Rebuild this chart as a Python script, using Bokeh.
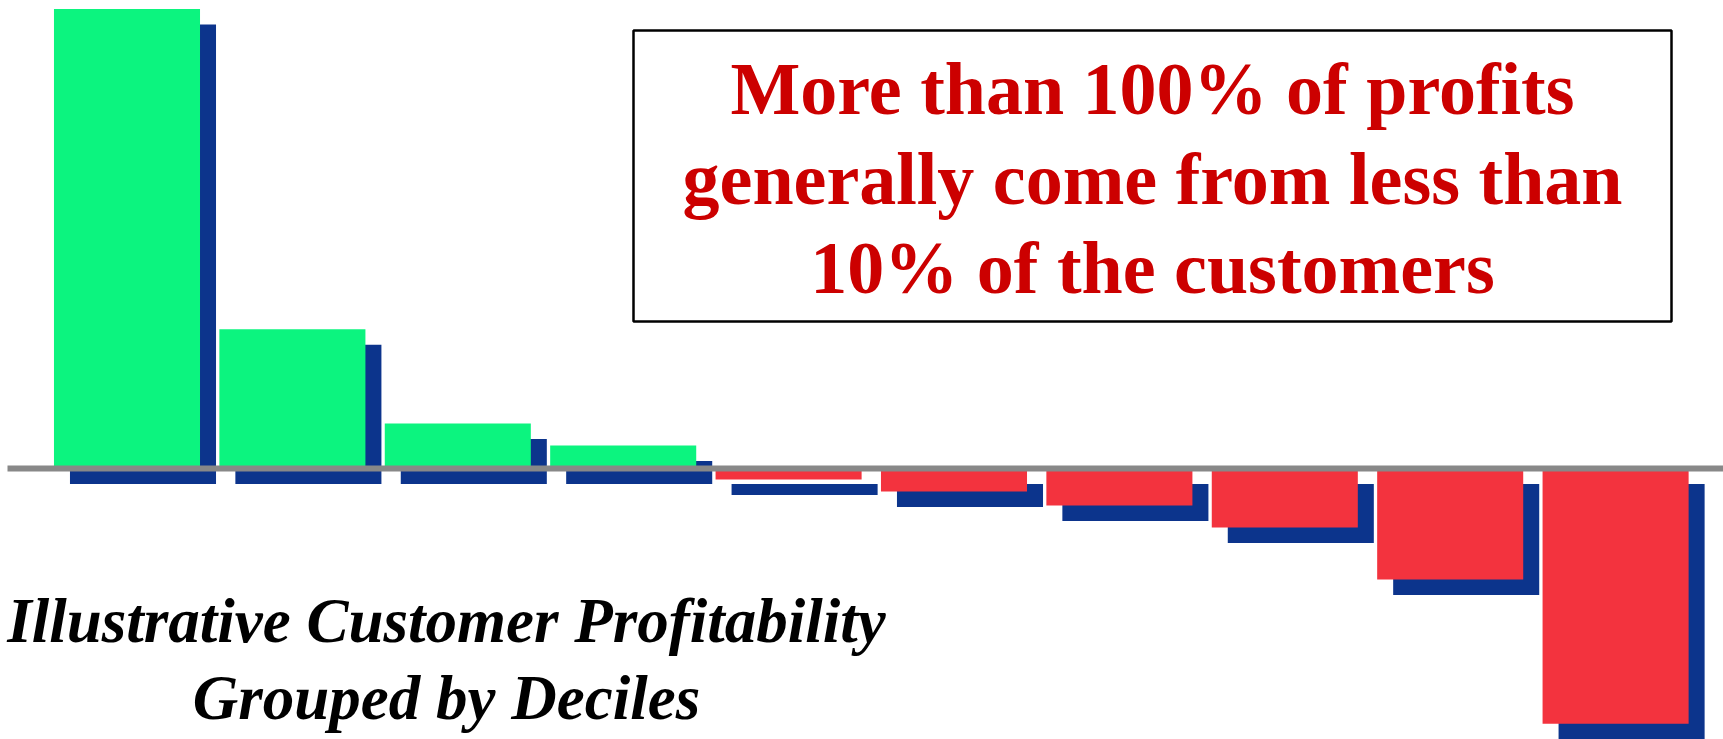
from bokeh.plotting import figure
from bokeh.models import Range1d
from bokeh.core.properties import value
from bokeh.embed import file_html
from bokeh.resources import INLINE

# ---- data ----
deciles = ["D1", "D2", "D3", "D4", "D5", "D6", "D7", "D8", "D9", "D10"]
profit = [180, 54.5, 17.6, 9, -4.3, -9, -14.5, -23.1, -43.5, -100]
note_lines = ["More than 100% of profits",
              "generally come from less than",
              "10% of the customers"]
title_lines = ["Illustrative Customer Profitability",
               "Grouped by Deciles"]

W, H = 1723, 739
X0, X1 = -0.7648, 9.6524
Y0, Y1 = -106.15, 183.31


def px_x(px):
    return X0 + (X1 - X0) * px / W


def px_y(py):
    return Y1 - (Y1 - Y0) * py / H


ux = (X1 - X0) / W   # data units per pixel (x)
uy = (Y1 - Y0) / H   # data units per pixel (y)

p = figure(width=W, height=H, output_backend="svg", toolbar_location=None,
           x_range=Range1d(X0, X1), y_range=Range1d(Y0, Y1),
           min_border=0, min_border_left=0, min_border_right=0,
           min_border_top=0, min_border_bottom=0)
p.axis.visible = False
p.grid.visible = False
p.outline_line_color = None
p.background_fill_color = "white"
p.border_fill_color = "white"

xs = list(range(len(deciles)))
bw = 0.883
dx = 16 * ux
dy = 15.5 * uy

# shadows
p.quad(left=[x - bw / 2 + dx for x in xs], right=[x + bw / 2 + dx for x in xs],
       top=[max(v, 0) - dy for v in profit], bottom=[min(v, 0) - dy for v in profit],
       fill_color="#0C348C", line_color=None)

# bars
cols = ["#0CF47F" if v > 0 else "#F3333E" for v in profit]
p.quad(left=[x - bw / 2 for x in xs], right=[x + bw / 2 for x in xs],
       top=[max(v, 0) for v in profit], bottom=[min(v, 0) for v in profit],
       fill_color=cols, line_color=None)

# zero line
p.line(x=[px_x(7), X1], y=[0, 0], line_color="#888888", line_width=6)

# note box
p.quad(left=[px_x(633)], right=[px_x(1671)], top=[px_y(30)], bottom=[px_y(321)],
       fill_color="white", line_color="black", line_width=2.5)

p.text(x=[px_x(1152)] * 3, y=[px_y(88), px_y(178), px_y(267)], text=note_lines,
       text_font=value("Liberation Serif"), text_font_style="bold",
       text_font_size="74px", text_color="#CC0000",
       text_align="center", text_baseline="alphabetic")

p.text(x=[px_x(446)] * 2, y=[px_y(620), px_y(697)], text=title_lines,
       text_font=value("Liberation Serif"), text_font_style="bold italic",
       text_font_size="63px", text_color="black",
       text_align="center", text_baseline="alphabetic")

open("out.html", "w").write(file_html(p, INLINE))
